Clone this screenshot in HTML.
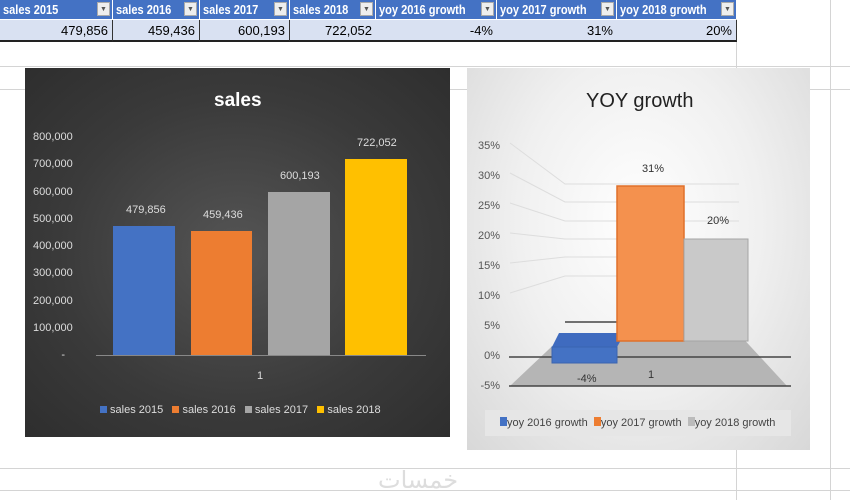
<!DOCTYPE html>
<html><head><style>
body{margin:0;width:850px;height:500px;background:#fff;position:relative;overflow:hidden;font-family:"Liberation Sans",sans-serif}
.a{position:absolute}
.h{background:#4472c4;color:#fff;font-size:13px;font-weight:bold;height:19px;line-height:19px;top:0;border-right:1px solid #fff;box-sizing:border-box;padding-left:3px;transform-origin:left;}
.h span{display:inline-block;transform:scaleX(.85);transform-origin:left;white-space:nowrap}
.dd{position:absolute;right:2px;top:2px;width:13px;height:14px;background:#eee;border:1px solid #aaa;box-sizing:border-box;font-size:7px;color:#555;text-align:center;line-height:13px}
.d{background:#d9e1f2;top:20px;height:22px;line-height:22px;font-size:13px;text-align:right;border-right:1px solid #333;box-sizing:border-box;padding-right:4px;border-bottom:2px solid #222}
.gl{position:absolute;background:#d4d4d4}
.t{position:absolute;font-size:11px;white-space:nowrap}
</style></head><body>
<div class="gl" style="left:0;top:66px;width:850px;height:1px"></div>
<div class="gl" style="left:0;top:89px;width:850px;height:1px"></div>
<div class="gl" style="left:0;top:468px;width:850px;height:1px"></div>
<div class="gl" style="left:0;top:490px;width:850px;height:1px"></div>
<div class="gl" style="left:736px;top:0;width:1px;height:500px"></div>
<div class="gl" style="left:830px;top:0;width:1px;height:500px"></div>
<div class="a h" style="left:0;width:113px"><span>sales 2015</span><div class="dd">▼</div></div>
<div class="a h" style="left:113px;width:87px"><span>sales 2016</span><div class="dd">▼</div></div>
<div class="a h" style="left:200px;width:90px"><span>sales 2017</span><div class="dd">▼</div></div>
<div class="a h" style="left:290px;width:86px"><span>sales 2018</span><div class="dd">▼</div></div>
<div class="a h" style="left:376px;width:121px"><span>yoy 2016 growth</span><div class="dd">▼</div></div>
<div class="a h" style="left:497px;width:120px"><span>yoy 2017 growth</span><div class="dd">▼</div></div>
<div class="a h" style="left:617px;width:120px"><span>yoy 2018 growth</span><div class="dd">▼</div></div>
<div class="a d" style="left:0;width:113px">479,856</div>
<div class="a d" style="left:113px;width:87px">459,436</div>
<div class="a d" style="left:200px;width:90px">600,193</div>
<div class="a d" style="left:290px;width:86px;border-right:none">722,052</div>
<div class="a d" style="left:376px;width:121px;border-right:none">-4%</div>
<div class="a d" style="left:497px;width:120px;border-right:none">31%</div>
<div class="a d" style="left:617px;width:120px">20%</div>

<div class="a" style="left:25px;top:68px;width:425px;height:369px;background:radial-gradient(ellipse at center,#555 0%,#3a3a3a 60%,#2e2e2e 100%)"></div>
<div class="t" style="left:214px;top:90px;color:#fff;font-size:19px;font-weight:bold">sales</div>
<div class="a" style="left:96px;top:355px;width:330px;height:1px;background:#888"></div>
<div class="a" style="left:113px;top:226px;width:62px;height:129px;background:#4472c4"></div>
<div class="a" style="left:191px;top:231px;width:61px;height:124px;background:#ed7d31"></div>
<div class="a" style="left:268px;top:192px;width:62px;height:163px;background:#a5a5a5"></div>
<div class="a" style="left:345px;top:159px;width:62px;height:196px;background:#ffc000"></div>
<div class="t" style="left:126px;top:204px;color:#ddd">479,856</div>
<div class="t" style="left:203px;top:209px;color:#ddd">459,436</div>
<div class="t" style="left:280px;top:170px;color:#ddd">600,193</div>
<div class="t" style="left:357px;top:137px;color:#ddd">722,052</div>
<div class="t" style="left:257px;top:370px;color:#ddd">1</div>
<div class="t" style="left:100px;top:404px;color:#ddd"><span style="display:inline-block;width:7px;height:7px;background:#4472c4"></span> sales 2015 &nbsp;&nbsp;<span style="display:inline-block;width:7px;height:7px;background:#ed7d31"></span> sales 2016 &nbsp;&nbsp;<span style="display:inline-block;width:7px;height:7px;background:#a5a5a5"></span> sales 2017 &nbsp;&nbsp;<span style="display:inline-block;width:7px;height:7px;background:#ffc000"></span> sales 2018</div>
<div class="t" style="left:33px;top:124px;color:#ddd;line-height:27.25px;text-align:right;width:36px">800,000<br>700,000<br>600,000<br>500,000<br>400,000<br>300,000<br>200,000<br>100,000<br><span style="padding-right:4px">-</span></div>

<div class="a" style="left:467px;top:68px;width:343px;height:382px;background:radial-gradient(ellipse at 50% 40%,#fff 0%,#f0f0f0 50%,#d8d8d8 100%)"></div>
<div class="t" style="left:586px;top:90px;color:#222;font-size:20px">YOY growth</div>
<div class="t" style="left:478px;top:131px;color:#555;line-height:30px;text-align:right;width:22px">35%<br>30%<br>25%<br>20%<br>15%<br>10%<br>5%<br>0%<br>-5%</div>
<svg class="a" style="left:467px;top:68px" width="343" height="382">
<g stroke="#ddd" fill="none">
<path d="M43 75 L98 116 H272"/><path d="M43 105 L98 134 H272"/><path d="M43 135 L98 153 H272"/><path d="M43 165 L98 171 H272"/><path d="M43 195 L98 189 H272"/><path d="M43 225 L98 208 H272"/>
</g>
<polygon points="98,266 272,266 320,318 43,318" fill="#b5b5b5"/>
<line x1="98" y1="254" x2="272" y2="254" stroke="#444" stroke-width="1.5"/>
<line x1="42" y1="289" x2="324" y2="289" stroke="#444" stroke-width="1.5"/>
<line x1="42" y1="318" x2="324" y2="318" stroke="#444" stroke-width="1.5"/>
<polygon points="85,279 150,279 158,265 92,265" fill="#3f6bbf"/>
<rect x="85" y="279" width="65" height="16" fill="#4472c4" stroke="#3a64b0"/>
<rect x="150" y="118" width="67" height="155" fill="#f4914e" stroke="#e0702a" stroke-width="1.5"/>
<rect x="217" y="171" width="64" height="102" fill="#c9c9c9" stroke="#a5a5a5"/>
</svg>
<div class="t" style="left:642px;top:163px;color:#333">31%</div>
<div class="t" style="left:707px;top:215px;color:#333">20%</div>
<div class="t" style="left:577px;top:373px;color:#333">-4%</div>
<div class="t" style="left:648px;top:369px;color:#333">1</div>
<div class="a" style="left:485px;top:410px;width:306px;height:26px;background:#e6e6e6"></div>
<div class="t" style="left:500px;top:417px;color:#444"><span style="display:inline-block;width:7px;height:9px;background:#4472c4"></span>yoy 2016 growth &nbsp;<span style="display:inline-block;width:7px;height:9px;background:#ed7d31"></span>yoy 2017 growth &nbsp;<span style="display:inline-block;width:7px;height:9px;background:#bbb"></span>yoy 2018 growth</div>
<div class="t" style="left:378px;top:466px;color:#ddd;font-size:24px;font-family:'DejaVu Sans',sans-serif">خمسات</div>
</body></html>
